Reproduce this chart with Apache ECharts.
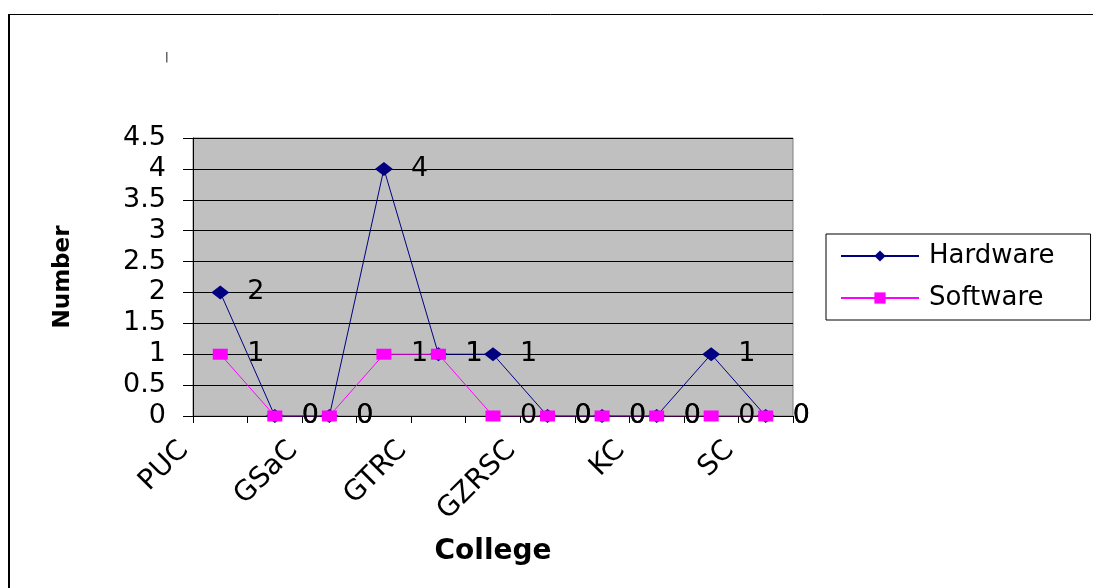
<!DOCTYPE html>
<html>
<head>
<meta charset="utf-8">
<script src="https://cdn.jsdelivr.net/npm/echarts@6/dist/echarts.min.js"></script>
<style>
html,body{margin:0;padding:0;background:#fff;}
#chart{width:1093px;height:588px;}
</style>
</head>
<body>
<div id="chart"></div>
<script>
// Categories (only every other name is printed on the reference axis)
const categories = ['PUC', '', 'GSaC', '', 'GTRC', '', 'GZRSC', '', 'KC', '', 'SC'];
const hardware = [2, 0, 0, 4, 1, 1, 0, 0, 0, 1, 0];
const software = [1, 0, 0, 1, 1, 0, 0, 0, 0, 0, 0];
const seriesNames = ['Hardware', 'Software'];
const yTicks = { min: 0, max: 4.5, interval: 0.5 };

const FONT = 'DejaVu Sans';
const chart = echarts.init(document.getElementById('chart'));

const HW_SIZE = [18, 14];
const SW_SIZE = [15, 11];

function labelCfg(halfWidth) {
  return {
    show: true, position: 'right', distance: 27 - halfWidth,
    color: '#000', fontFamily: FONT, fontSize: 27
  };
}

chart.setOption({
  animation: false,
  backgroundColor: '#fff',
  title: {
    text: '|', left: 160, top: 47,
    textStyle: { fontSize: 11, fontWeight: 'normal', color: '#000', fontFamily: FONT }
  },
  graphic: [
    { type: 'line', shape: { x1: 8, y1: 14.5, x2: 1093, y2: 14.5 }, style: { stroke: '#000', lineWidth: 1 } },
    { type: 'line', shape: { x1: 9, y1: 14, x2: 9, y2: 588 }, style: { stroke: '#000', lineWidth: 2 } }
  ],
  grid: {
    left: 193, right: 300, top: 138, bottom: 172,
    show: true, backgroundColor: '#C0C0C0', borderColor: '#808080', borderWidth: 1
  },
  legend: {
    left: 826, top: 234, orient: 'vertical',
    data: seriesNames,
    itemWidth: 78, itemHeight: 14, itemGap: 14,
    padding: [8, 36, 8, 14],
    borderColor: '#000', borderWidth: 1,
    backgroundColor: '#fff',
    textStyle: { fontFamily: FONT, fontSize: 26, color: '#000', lineHeight: 28, padding: [0, 0, 0, 5] }
  },
  xAxis: {
    type: 'category',
    data: categories,
    boundaryGap: true,
    name: 'College', nameLocation: 'middle', nameGap: 122,
    nameTextStyle: { fontFamily: FONT, fontSize: 28, fontWeight: 'bold', color: '#000' },
    axisLine: { show: true, lineStyle: { color: '#000', width: 1 } },
    axisTick: { show: true, interval: 0, length: 7, lineStyle: { color: '#000' } },
    axisLabel: {
      interval: 1, rotate: 45, margin: -6,
      padding: [0, 51, 0, 0],
      fontFamily: FONT, fontSize: 28, color: '#000'
    },
    splitLine: { show: false }
  },
  yAxis: {
    type: 'value',
    min: yTicks.min, max: yTicks.max, interval: yTicks.interval,
    name: 'Number', nameLocation: 'middle', nameGap: 118, nameRotate: 90,
    nameTextStyle: { fontFamily: FONT, fontSize: 23, fontWeight: 'bold', color: '#000' },
    axisLine: { show: true, lineStyle: { color: '#000', width: 1 } },
    axisTick: { show: true, length: 10, lineStyle: { color: '#000' } },
    axisLabel: { margin: 27, fontFamily: FONT, fontSize: 27, color: '#000' },
    splitLine: { show: true, lineStyle: { color: '#000', width: 1 } }
  },
  series: [
    {
      name: seriesNames[0], type: 'line', data: hardware,
      symbol: 'diamond', symbolSize: HW_SIZE,
      color: '#000080',
      lineStyle: { color: '#000080', width: 1 },
      itemStyle: { color: '#000080' },
      label: labelCfg(HW_SIZE[0] / 2),
      z: 2
    },
    {
      name: seriesNames[1], type: 'line', data: software,
      symbol: 'rect', symbolSize: SW_SIZE,
      color: '#FF00FF',
      lineStyle: { color: '#FF00FF', width: 1 },
      itemStyle: { color: '#FF00FF' },
      label: labelCfg(SW_SIZE[0] / 2),
      z: 3
    }
  ]
});
</script>
</body>
</html>
